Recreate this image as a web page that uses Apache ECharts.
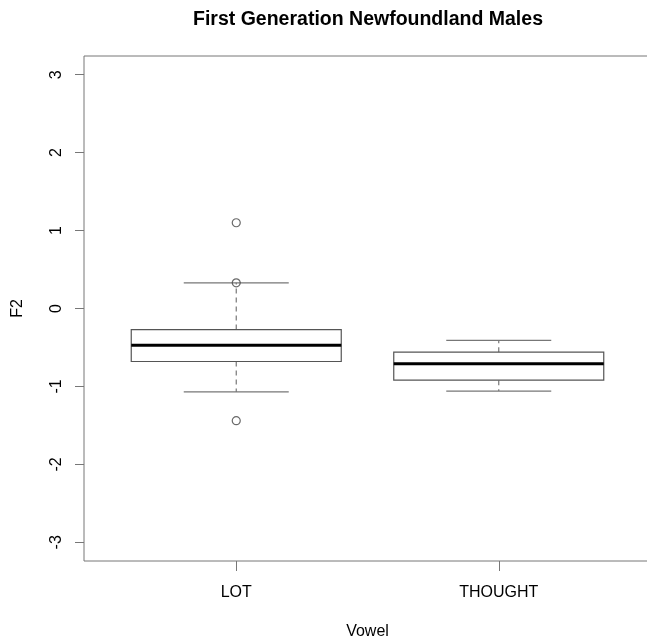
<!DOCTYPE html>
<html>
<head>
<meta charset="utf-8">
<script src="https://cdn.jsdelivr.net/npm/echarts@6/dist/echarts.min.js"></script>
<style>html,body{margin:0;padding:0;background:#fff;}#c{width:647px;height:640px;}</style>
</head>
<body>
<div id="c"></div>
<script>
const categories = ['LOT', 'THOUGHT'];
const lowerWhisker = [-1.07, -1.06];
const q1 = [-0.68, -0.92];
const median = [-0.47, -0.71];
const q3 = [-0.27, -0.56];
const upperWhisker = [0.33, -0.41];
const outliers = [[1, 1.10], [1, 0.33], [1, -1.44]];
const yTicks = [-3, -2, -1, 0, 1, 2, 3];

const chart = echarts.init(document.getElementById('c'), null, {renderer: 'canvas'});
const font = 'Liberation Sans, Arial, sans-serif';
const boxData = categories.map((c, i) => [i + 1, lowerWhisker[i], q1[i], median[i], q3[i], upperWhisker[i]]);

chart.setOption({
  animation: false,
  title: {
    text: 'First Generation Newfoundland Males',
    left: 363, top: 5, textAlign: 'center',
    textStyle: {fontFamily: font, fontWeight: 'bold', fontSize: 19.5, color: '#000'}
  },
  grid: {left: 84, top: 56, right: -4, bottom: 79, outerBoundsMode: 'none', containLabel: false,
    show: true, borderColor: '#777', borderWidth: 1, backgroundColor: 'transparent'},
  xAxis: {
    type: 'value', min: 0.42, max: 2.58,
    name: 'Vowel', nameLocation: 'middle', nameGap: 63,
    nameTextStyle: {fontFamily: font, fontSize: 16, color: '#000'},
    axisLine: {show: false, onZero: false},
    splitLine: {show: false},
    axisTick: {show: true, length: 10, lineStyle: {color: '#777'}, customValues: [1, 2]},
    axisLabel: {
      customValues: [1, 2], margin: 24,
      fontFamily: font, fontSize: 16, color: '#000',
      formatter: v => categories[Math.round(v) - 1] || ''
    }
  },
  yAxis: {
    type: 'value', min: -3.24, max: 3.24,
    name: 'F2', nameLocation: 'middle', nameGap: 58, nameRotate: 90,
    nameTextStyle: {fontFamily: font, fontSize: 16, color: '#000'},
    axisLine: {show: false, onZero: false},
    splitLine: {show: false},
    axisTick: {show: true, length: 9, lineStyle: {color: '#777'}, customValues: yTicks},
    axisLabel: {
      customValues: yTicks, rotate: 90, margin: 19,
      fontFamily: font, fontSize: 16, color: '#000',
      formatter: v => String(Math.round(v))
    }
  },
  series: [
    {
      type: 'custom',
      data: boxData,
      renderItem: function (params, api) {
        const x = api.value(0);
        const lw = api.value(1), b1 = api.value(2), md = api.value(3), b3 = api.value(4), uw = api.value(5);
        const p = (xx, yy) => api.coord([xx, yy]);
        const dash = {stroke: '#777', lineWidth: 1.2, lineDash: [5, 4]};
        const cap = {stroke: '#777', lineWidth: 1.3};
        return {
          type: 'group',
          children: [
            {type: 'line', shape: {x1: p(x, b3)[0], y1: p(x, b3)[1], x2: p(x, uw)[0], y2: p(x, uw)[1]}, style: dash},
            {type: 'line', shape: {x1: p(x, b1)[0], y1: p(x, b1)[1], x2: p(x, lw)[0], y2: p(x, lw)[1]}, style: dash},
            {type: 'line', shape: {x1: p(x - 0.2, uw)[0], y1: p(x, uw)[1], x2: p(x + 0.2, uw)[0], y2: p(x, uw)[1]}, style: cap},
            {type: 'line', shape: {x1: p(x - 0.2, lw)[0], y1: p(x, lw)[1], x2: p(x + 0.2, lw)[0], y2: p(x, lw)[1]}, style: cap},
            {type: 'rect', shape: {x: p(x - 0.4, b3)[0], y: p(x, b3)[1], width: p(x + 0.4, b3)[0] - p(x - 0.4, b3)[0], height: p(x, b1)[1] - p(x, b3)[1]},
              style: {fill: '#fff', stroke: '#555', lineWidth: 1.2}},
            {type: 'line', shape: {x1: p(x - 0.4, md)[0], y1: p(x, md)[1], x2: p(x + 0.4, md)[0], y2: p(x, md)[1]}, style: {stroke: '#000', lineWidth: 3}}
          ]
        };
      }
    },
    {
      type: 'scatter',
      data: outliers,
      symbol: 'circle', symbolSize: 8,
      itemStyle: {color: 'transparent', borderColor: '#444', borderWidth: 1.2},
      z: 5
    }
  ]
});
</script>
</body>
</html>
